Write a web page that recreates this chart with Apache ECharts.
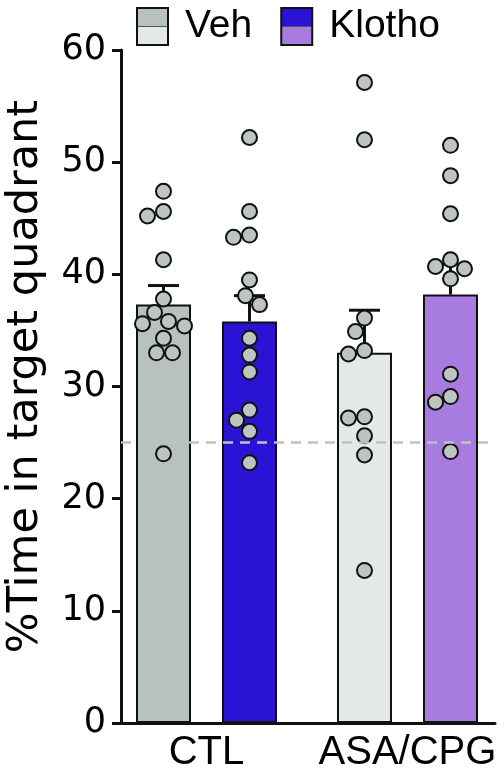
<!DOCTYPE html>
<html><head><meta charset="utf-8">
<script src="https://cdn.jsdelivr.net/npm/echarts@6/dist/echarts.min.js"></script>
<style>html,body{margin:0;padding:0;background:#fff}#c{width:504px;height:768px}</style>
</head><body><div id="c"></div>
<script>
// ---- data ----
const groups = ['CTL', 'ASA/CPG'];
const treatments = ['Veh', 'Klotho'];
const vehMean = [37.3, 33.0];
const vehErrTop = [39.0, 36.8];
const klothoMean = [35.8, 38.2];
const klothoErrTop = [38.1, 40.9];
const ctlVehDots = [47.4, 45.6, 45.2, 41.3, 37.8, 36.6, 35.8, 35.6, 35.4, 34.3, 33.0, 33.0, 24.0];
const ctlKlothoDots = [52.2, 45.6, 43.5, 43.3, 39.5, 38.1, 37.3, 34.3, 32.8, 31.3, 27.9, 27.0, 26.0, 23.2];
const asaVehDots = [57.1, 52.0, 36.1, 34.9, 33.2, 32.9, 27.3, 27.2, 25.6, 23.9, 13.6];
const asaKlothoDots = [51.5, 48.8, 45.4, 41.3, 40.7, 40.5, 39.6, 31.1, 29.1, 28.6, 24.2];
const chanceLevel = 25;
const yMin = 0, yMax = 60, yStep = 10;

// ---- styling / layout ----
const VEH_COLORS = ['#b7c1be', '#e4e9e7'];
const KLO_COLORS = ['#2b13d5', '#a77bdf'];
const DOT_FILL = '#bcc5c2';
const INK = '#111';
const BAR_W = 55, BAR_GAP = 31;
const BAR_OFF = (BAR_W + BAR_GAP) / 2;
const CAP_W = 31;
const MIN_DIST = 16;
const TOP = 50, BOTTOM = 45;

function split(c) {
  return new echarts.graphic.LinearGradient(0, 0, 0, 1, [
    {offset: 0, color: c[0]}, {offset: 0.48, color: c[0]},
    {offset: 0.48, color: '#555'}, {offset: 0.52, color: '#555'},
    {offset: 0.52, color: c[1]}, {offset: 1, color: c[1]}
  ]);
}

const chart = echarts.init(document.getElementById('c'), null, {renderer: 'canvas'});

const option = {
  animation: false,
  backgroundColor: '#fff',
  legend: {
    left: 131, top: 2,
    itemWidth: 31, itemHeight: 37, itemGap: 28,
    icon: 'rect', selectedMode: false,
    itemStyle: {borderColor: INK, borderWidth: 2},
    textStyle: {fontFamily: 'Liberation Sans', fontSize: 39, color: '#000', padding: [0, 0, 0, 12]},
    data: [
      {name: treatments[0], itemStyle: {color: split(VEH_COLORS)}},
      {name: treatments[1], itemStyle: {color: split(KLO_COLORS)}}
    ]
  },
  grid: [
    {left: 106, width: 402, top: TOP, bottom: BOTTOM, containLabel: false, outerBoundsMode: 'none'},
    {left: 121, right: 9, top: TOP, bottom: BOTTOM, containLabel: false, outerBoundsMode: 'none'}
  ],
  xAxis: [
    {gridIndex: 0, type: 'category', data: groups,
     axisLine: {show: false}, axisTick: {show: false},
     axisLabel: {interval: 0, hideOverlap: false, fontFamily: 'Liberation Sans', fontSize: 40, color: '#000', margin: 10}},
    {gridIndex: 1, type: 'value', min: 0, max: 1,
     axisLine: {show: true, onZero: false, lineStyle: {color: INK, width: 3}},
     axisTick: {show: false}, axisLabel: {show: false}, splitLine: {show: false}}
  ],
  yAxis: [
    {gridIndex: 0, type: 'value', min: yMin, max: yMax, interval: yStep, show: false},
    {gridIndex: 1, type: 'value', min: yMin, max: yMax, interval: yStep,
     name: '%Time in target quadrant', nameLocation: 'middle', nameGap: 74,
     nameTextStyle: {fontFamily: 'DejaVu Sans', fontSize: 43, color: '#000', padding: [0, 0, 0, 20]},
     axisLine: {show: true, lineStyle: {color: INK, width: 3}},
     axisTick: {show: true, length: 9, lineStyle: {color: INK, width: 3}},
     axisLabel: {fontFamily: 'DejaVu Sans', fontSize: 35, color: '#000', margin: 15},
     splitLine: {show: false}}
  ],
  series: [
    {type: 'line', xAxisIndex: 1, yAxisIndex: 1, data: [], z: 1, silent: true,
     markLine: {symbol: 'none', silent: true, label: {show: false},
       lineStyle: {color: '#bcc3c2', type: [10, 7], width: 2.5},
       data: [{yAxis: chanceLevel}]}},
    {name: treatments[0], type: 'bar', xAxisIndex: 0, yAxisIndex: 0, z: 2,
     barWidth: BAR_W, barGap: (BAR_GAP / BAR_W * 100).toFixed(1) + '%',
     itemStyle: {borderColor: INK, borderWidth: 2, color: VEH_COLORS[0]},
     data: vehMean.map((v, i) => ({value: v, itemStyle: {color: VEH_COLORS[i]}}))},
    {name: treatments[1], type: 'bar', xAxisIndex: 0, yAxisIndex: 0, z: 2,
     barWidth: BAR_W,
     itemStyle: {borderColor: INK, borderWidth: 2, color: KLO_COLORS[0]},
     data: klothoMean.map((v, i) => ({value: v, itemStyle: {color: KLO_COLORS[i]}}))}
  ]
};
chart.setOption(option);

// error bars
const errData = [];
groups.forEach((g, i) => {
  errData.push([i, vehMean[i], vehErrTop[i], -1]);
  errData.push([i, klothoMean[i], klothoErrTop[i], 1]);
});

// dots with a simple beeswarm spread
const dotSets = [
  {g: 0, side: -1, vals: ctlVehDots},
  {g: 0, side: 1, vals: ctlKlothoDots},
  {g: 1, side: -1, vals: asaVehDots},
  {g: 1, side: 1, vals: asaKlothoDots}
];
function swarm(vals) {
  const placed = [];
  const offs = new Array(vals.length).fill(0);
  const order = vals.map((v, i) => i).sort((a, b) => vals[b] - vals[a]);
  for (const i of order) {
    const y = chart.convertToPixel({yAxisIndex: 0}, vals[i]);
    let chosen = 0;
    for (let k = 0; k < 400; k++) {
      const dx = k === 0 ? 0 : (k % 2 ? -Math.ceil(k / 2) : Math.ceil(k / 2));
      if (placed.every(p => Math.hypot(p.x - dx, p.y - y) >= MIN_DIST)) { chosen = dx; break; }
    }
    placed.push({x: chosen, y});
    offs[i] = chosen;
  }
  return offs;
}
const dotData = [];
dotSets.forEach(s => {
  const offs = swarm(s.vals);
  s.vals.forEach((v, i) => dotData.push({value: [s.g, v], symbolOffset: [s.side * BAR_OFF + offs[i], 0]}));
});

chart.setOption({
  series: option.series.concat([
    {type: 'custom', name: 'sem', xAxisIndex: 0, yAxisIndex: 0, z: 3, silent: true,
     data: errData,
     renderItem: (params, api) => {
       const ci = api.value(0), side = api.value(3);
       const b = api.coord([ci, api.value(1)]);
       const t = api.coord([ci, api.value(2)]);
       const x = b[0] + side * BAR_OFF;
       return {type: 'group', children: [
         {type: 'line', shape: {x1: x, y1: b[1], x2: x, y2: t[1]}, style: {stroke: INK, lineWidth: 3}},
         {type: 'line', shape: {x1: x - CAP_W / 2, y1: t[1], x2: x + CAP_W / 2, y2: t[1]}, style: {stroke: INK, lineWidth: 3}}
       ]};
     }},
    {type: 'scatter', name: 'points', xAxisIndex: 0, yAxisIndex: 0, z: 4, silent: true,
     symbol: 'circle', symbolSize: 15,
     itemStyle: {color: DOT_FILL, borderColor: INK, borderWidth: 2, opacity: 1},
     data: dotData}
  ])
});
</script></body></html>
